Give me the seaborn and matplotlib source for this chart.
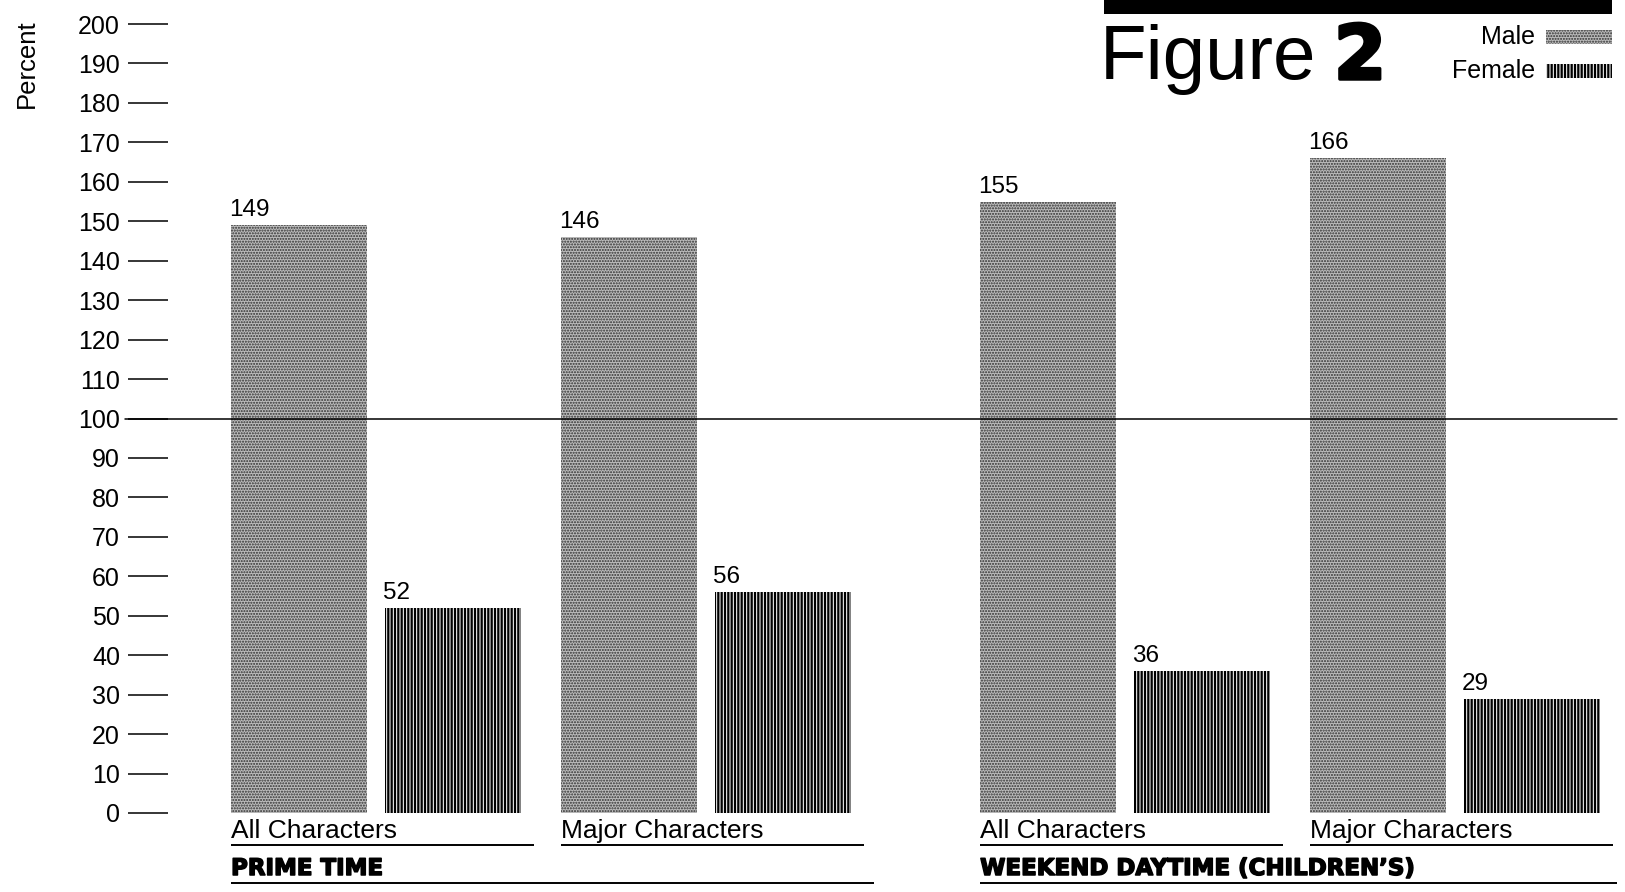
import matplotlib
matplotlib.use("Agg")
import matplotlib.pyplot as plt
from matplotlib.patches import Rectangle
import matplotlib.patheffects as pe
import pandas as pd
import seaborn as sns

# ---- data -------------------------------------------------------------
groups = ["PRIME TIME", "WEEKEND DAYTIME (CHILDREN\u2019S)"]
subsets = ["All Characters", "Major Characters"]
sexes = ["Male", "Female"]
male_values = [149, 146, 155, 166]
female_values = [52, 56, 36, 29]
y_ticks = list(range(0, 201, 10))

# ---- layout helpers ---------------------------------------------------
W, H = 1625, 892
GROUP_GAP = 0.27          # extra space between the two programme groups
MALE_FACE, MALE_DOTS = "#bcbcbc", "#303030"
MALE_HATCH, FEMALE_HATCH = "......", "|||||"

rows = []
for gi, g in enumerate(groups):
    for si, s in enumerate(subsets):
        k = gi * len(subsets) + si
        pos = gi * (len(subsets) + GROUP_GAP) + si
        rows.append(dict(group=g, subset=s, pos=pos, sex="Male", value=male_values[k]))
        rows.append(dict(group=g, subset=s, pos=pos, sex="Female", value=female_values[k]))
df = pd.DataFrame(rows)

sns.set_style("white")
plt.rcParams["font.family"] = ["Liberation Sans", "DejaVu Sans"]
plt.rcParams["text.color"] = "black"
plt.rcParams["axes.labelcolor"] = "black"
plt.rcParams["ytick.color"] = "black"
plt.rcParams["hatch.linewidth"] = 1.2

fig = plt.figure(figsize=(W / 100, H / 100), dpi=100)
ax = fig.add_axes([128 / W, 79 / H, 1489 / W, 789 / H])

sns.barplot(
    data=df, x="pos", y="value", hue="sex", hue_order=sexes,
    native_scale=True, width=0.933, gap=0.117, errorbar=None,
    palette={"Male": MALE_FACE, "Female": "white"}, saturation=1,
    legend=False, ax=ax,
)

ax.set_xlim(-0.7515, 3.7606)
ax.set_ylim(0, 200)


def texture(patch, hatch, color, hatch_lw):
    patch.set_hatch(hatch)
    patch.set_edgecolor(color)
    patch.set_linewidth(0)
    if hasattr(patch, "set_hatch_linewidth"):
        patch.set_hatch_linewidth(hatch_lw)


# textures: stippled male bars, vertically ruled female bars
male_bars, female_bars = ax.containers[0], ax.containers[1]
for bar in male_bars:
    texture(bar, MALE_HATCH, MALE_DOTS, 1.0)
for bar in female_bars:
    texture(bar, FEMALE_HATCH, "black", 1.65)

# value labels above each bar
for bars, vals in ((male_bars, male_values), (female_bars, female_values)):
    for bar, v in zip(bars, vals):
        ax.annotate(str(v), xy=(bar.get_x(), v), xytext=(-2, 9),
                    textcoords="offset pixels", ha="left", va="baseline",
                    fontsize=17.5)

# y axis: long inward ticks, no spines
for sp in ax.spines.values():
    sp.set_visible(False)
ax.set_xticks([])
ax.set_xlabel("")
ax.set_ylabel("")
ax.set_yticks(y_ticks)
ax.set_yticklabels([str(t) for t in y_ticks])
ax.tick_params(axis="y", left=True, direction="in", length=28.8, width=1.1,
               pad=5.8, labelsize=18, colors="black")

# reference line at parity
ax.axhline(100, xmin=-0.002, xmax=1, color="black", lw=1.1, clip_on=False)

fig.text(27 / W, 1 - 64 / H, "Percent", rotation=90, ha="center",
         va="center", fontsize=18.5)

# category labels and rules under the bars
px_per_unit = 789 / 200


def y_below(px):
    return -px / px_per_unit


left_edges = [b.get_x() for b in male_bars]
right_edges = [b.get_x() + b.get_width() for b in female_bars]
for i, sub in enumerate(subsets * len(groups)):
    ax.text(left_edges[i], y_below(25), sub, ha="left", va="baseline",
            fontsize=19, clip_on=False)
    right = min(right_edges[i] + 0.04, ax.get_xlim()[1])
    ax.plot([left_edges[i], right], [y_below(32)] * 2, color="black",
            lw=1.4, clip_on=False, solid_capstyle="butt")

heavy = [pe.withStroke(linewidth=1.1, foreground="black")]
group_rule_right = [right_edges[1] + 0.07, ax.get_xlim()[1]]
for gi, g in enumerate(groups):
    x0 = left_edges[gi * len(subsets)]
    ax.text(x0, y_below(62), g, ha="left", va="baseline", fontsize=16.5,
            fontweight="heavy", family=["DejaVu Sans"], clip_on=False,
            path_effects=heavy)
    ax.plot([x0, group_rule_right[gi]], [y_below(70)] * 2, color="black",
            lw=1.4, clip_on=False, solid_capstyle="butt")

# title block
fig.add_artist(Rectangle((1104 / W, 1 - 14 / H), 508 / W, 14 / H,
                         transform=fig.transFigure, color="black", lw=0))
fig.text(1100 / W, 1 - 79 / H, "Figure", fontsize=55, va="baseline",
         ha="left")
fig.text(1334 / W, 1 - 79 / H, "2", fontsize=54, va="baseline", ha="left",
         fontweight="heavy", family=["DejaVu Sans"],
         path_effects=[pe.withStroke(linewidth=2.5, foreground="black")])

# legend swatches
legend_rows = [("Male", 37, MALE_FACE, MALE_DOTS, MALE_HATCH, 1.0),
               ("Female", 71, "white", "black", FEMALE_HATCH, 1.65)]
for label, yc, face, ink, hatch, hlw in legend_rows:
    fig.text(1535 / W, 1 - yc / H, label, ha="right", va="center",
             fontsize=18)
    swatch = Rectangle((1546 / W, 1 - (yc + 7) / H), 66 / W, 14 / H,
                       transform=fig.transFigure, facecolor=face)
    texture(swatch, hatch, ink, hlw)
    fig.add_artist(swatch)

fig.savefig("out.png", dpi=100)
